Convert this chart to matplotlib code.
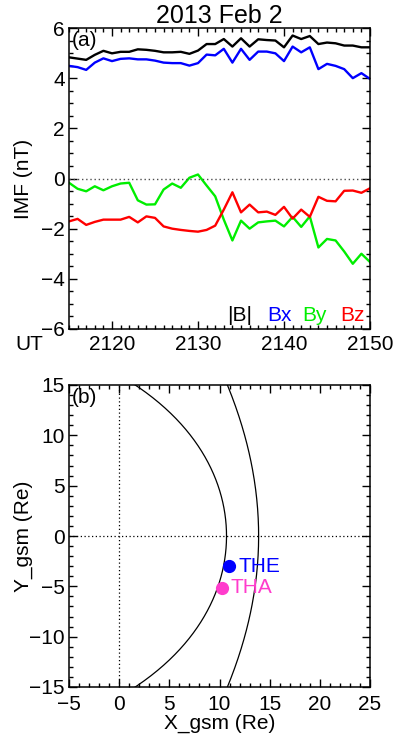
import numpy as np
import matplotlib.pyplot as plt
from matplotlib.ticker import MultipleLocator

plt.rcParams['font.family'] = ['Liberation Sans', 'DejaVu Sans']
plt.rcParams['font.size'] = 15

# IMF, 1-min values, 2115-2150 UT
ut = np.arange(2115, 2151)
b_tot = [4.83, 4.78, 4.73, 4.93, 5.09, 4.99, 5.05, 5.05, 5.15, 5.13,
         5.09, 5.03, 5.03, 5.05, 4.97, 5.10, 5.36, 5.36, 5.56, 5.26,
         5.59, 5.26, 5.55, 5.52, 5.50, 5.23, 5.70, 5.56, 5.68, 5.36,
         5.42, 5.39, 5.30, 5.30, 5.23, 5.23]
bx = [4.49, 4.44, 4.33, 4.62, 4.79, 4.68, 4.77, 4.79, 4.75, 4.75,
      4.70, 4.62, 4.60, 4.60, 4.50, 4.60, 4.94, 4.91, 5.17, 4.62,
      5.17, 4.73, 5.06, 5.06, 4.99, 4.68, 5.26, 5.03, 5.23, 4.36,
      4.57, 4.49, 4.36, 4.00, 4.20, 3.97]
by = [-0.17, -0.41, -0.51, -0.31, -0.47, -0.31, -0.20, -0.17, -0.87, -1.04,
      -1.03, -0.44, -0.20, -0.37, 0.03, 0.16, -0.28, -0.71, -1.64, -2.47,
      -1.68, -2.00, -1.75, -1.71, -1.68, -1.91, -1.53, -1.93, -1.51, -2.75,
      -2.41, -2.47, -2.91, -3.40, -3.00, -3.33]
bz = [-1.71, -1.61, -1.85, -1.73, -1.64, -1.64, -1.64, -1.53, -1.75, -1.51,
      -1.57, -1.91, -2.00, -2.05, -2.09, -2.12, -2.05, -1.88, -1.24, -0.55,
      -1.35, -1.04, -1.35, -1.32, -1.45, -1.13, -1.60, -1.24, -1.53, -0.73,
      -0.89, -0.91, -0.49, -0.48, -0.57, -0.39]

comp_names = ['|B|', 'Bx', 'By', 'Bz']
comp_colors = ['black', '#0000ff', '#00ee00', '#ff0000']

# spacecraft positions (GSM, Re)
sc_names = ['THE', 'THA']
sc_x = [10.95, 10.22]
sc_y = [-3.0, -5.15]
sc_colors = ['#0000ff', '#ff3ccc']

# model boundaries: subsolar distance and flaring
mp_r0, mp_alpha = 10.7, 0.58
bs_r0, bs_alpha = 13.9, 1.22


def style(ax, xmaj, xmin, ymaj, ymin, xpad=4):
    ax.xaxis.set_major_locator(MultipleLocator(xmaj))
    ax.xaxis.set_minor_locator(MultipleLocator(xmin))
    ax.yaxis.set_major_locator(MultipleLocator(ymaj))
    ax.yaxis.set_minor_locator(MultipleLocator(ymin))
    ax.tick_params(which='both', direction='in', top=True, right=True, width=1)
    ax.tick_params(which='major', length=6)
    ax.tick_params(which='minor', length=3)
    ax.tick_params(axis='x', pad=xpad)
    ax.tick_params(axis='y', pad=3)
    for s in ax.spines.values():
        s.set_linewidth(1.1)


def shue(r0, alpha):
    th = np.linspace(-np.pi * 0.85, np.pi * 0.85, 400)
    r = r0 * (2 / (1 + np.cos(th))) ** alpha
    return r * np.cos(th), r * np.sin(th)


fig = plt.figure(figsize=(3.93, 7.34), dpi=100)

# (a) IMF
ax1 = fig.add_axes([69 / 393, 1 - 329 / 734, 301 / 393, 301 / 734])
for vals, c in zip([b_tot, bx, by, bz], comp_colors):
    ax1.plot(ut, vals, color=c, lw=1.7)
ax1.axhline(0, color='0.3', lw=1, ls=(0, (1, 2)))
ax1.set_xlim(2115, 2150)
ax1.set_ylim(-6, 6)
style(ax1, 10, 1, 2, 0.5)
ax1.set_ylabel('IMF (nT)')
ax1.yaxis.set_label_coords(-0.12, 0.5)
ax1.set_title('2013 Feb 2', pad=3.5)
ax1.text(0.01, 0.99, '(a)', transform=ax1.transAxes, ha='left', va='top')
for name, c, xp in zip(comp_names, comp_colors, [0.525, 0.66, 0.775, 0.90]):
    ax1.text(xp, 0.025, name, color=c, transform=ax1.transAxes,
             ha='left', va='baseline')
fig.text(15 / 393, 1 - 344 / 734, 'UT', va='center', ha='left')

# (b) positions
ax2 = fig.add_axes([69 / 393, 1 - 687 / 734, 301 / 393, 302 / 734])
for r0, a in [(mp_r0, mp_alpha), (bs_r0, bs_alpha)]:
    x, y = shue(r0, a)
    ax2.plot(x, y, color='black', lw=0.9)
ax2.axhline(0, color='black', lw=0.9, ls=(0, (1, 2)))
ax2.axvline(0, color='black', lw=0.9, ls=(0, (1, 2)))
for name, xs, ys, c in zip(sc_names, sc_x, sc_y, sc_colors):
    ax2.plot(xs, ys, 'o', color=c, ms=8.5)
    ax2.text(xs + 0.9, ys, name, color=c, ha='left', va='center')
ax2.set_xlim(-5, 25)
ax2.set_ylim(-15, 15)
style(ax2, 5, 1, 5, 1, xpad=5.5)
ax2.set_xlabel('X_gsm (Re)')
ax2.xaxis.set_label_coords(0.5, -0.087)
ax2.set_ylabel('Y_gsm (Re)')
ax2.yaxis.set_label_coords(-0.12, 0.5)
ax2.text(0.01, 0.99, '(b)', transform=ax2.transAxes, ha='left', va='top')

fig.savefig('out.png', dpi=100)
